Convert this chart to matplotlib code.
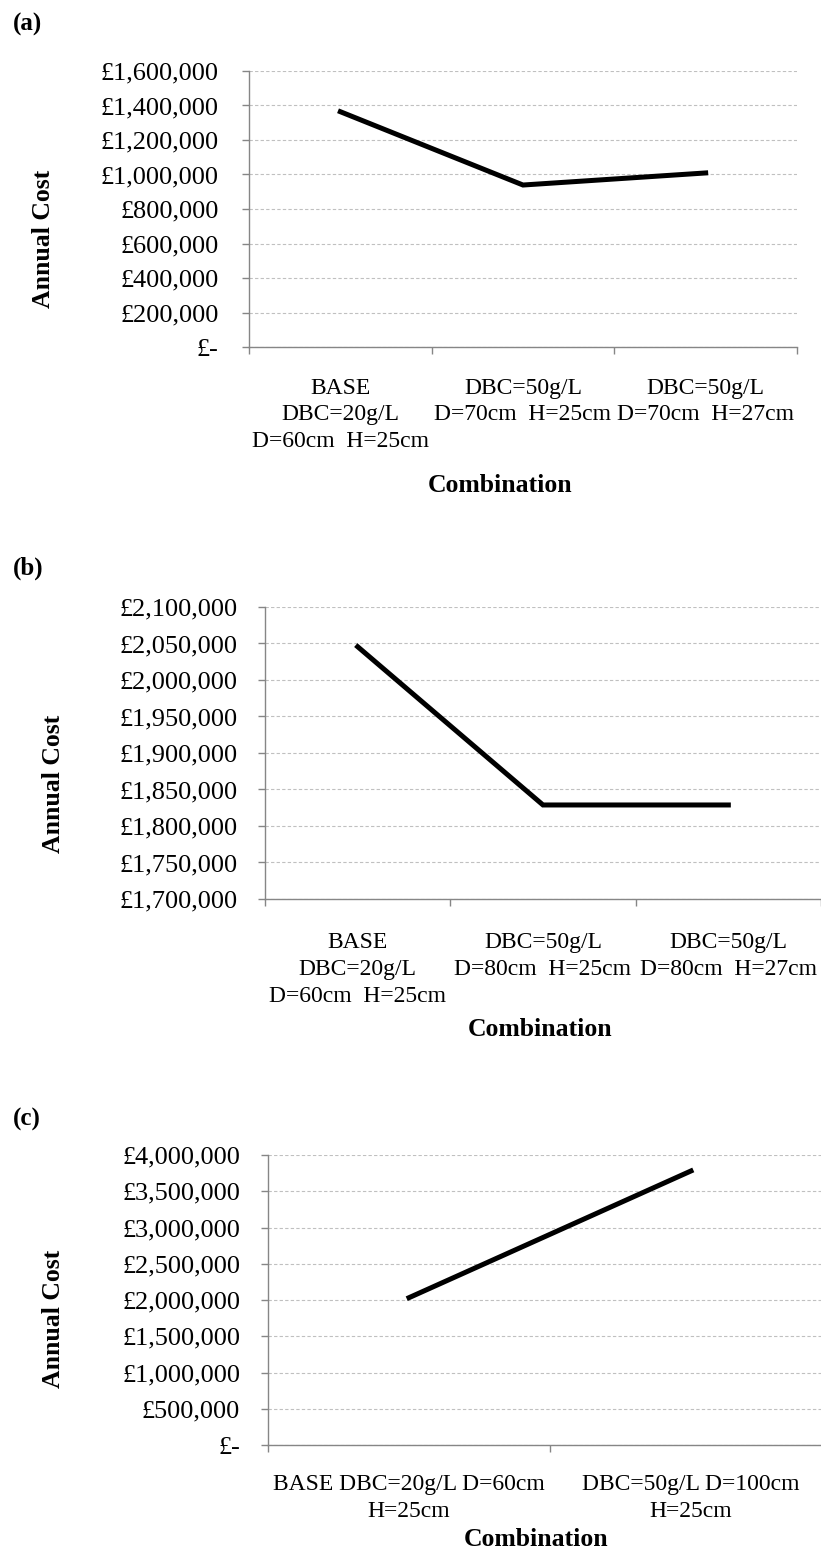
import matplotlib.pyplot as plt
from matplotlib.ticker import FuncFormatter, FixedLocator
from matplotlib.patches import Rectangle

plt.rcParams['font.family'] = ['Liberation Serif', 'DejaVu Serif']

# panel (a)
labels_a = ['BASE\nDBC=20g/L\nD=60cm  H=25cm', 'DBC=50g/L\nD=70cm  H=25cm', 'DBC=50g/L\nD=70cm  H=27cm']
cost_a = [1364000, 939000, 1009000]
yticks_a = [0, 200000, 400000, 600000, 800000, 1000000, 1200000, 1400000, 1600000]

# panel (b)
labels_b = ['BASE\nDBC=20g/L\nD=60cm  H=25cm', 'DBC=50g/L\nD=80cm  H=25cm', 'DBC=50g/L\nD=80cm  H=27cm']
cost_b = [2045600, 1828800, 1828800]
yticks_b = [1700000, 1750000, 1800000, 1850000, 1900000, 1950000, 2000000, 2050000, 2100000]

# panel (c)
labels_c = ['BASE DBC=20g/L D=60cm\nH=25cm', 'DBC=50g/L D=100cm\nH=25cm']
cost_c = [2032000, 3780000]
yticks_c = [0, 500000, 1000000, 1500000, 2000000, 2500000, 3000000, 3500000, 4000000]

W, H = 821, 1553
fig = plt.figure(figsize=(W / 100, H / 100), dpi=100)
AXC = '#868686'


def pounds(v, pos):
    if v == 0:
        return '£-'
    return '£{:,.0f}'.format(v)


def panel(box, labels, cost, yticks, tag, tagy, ylab_xy, xlab_xy, ypad, xpad, xclip=None):
    left, top, right, bottom = box
    ax = fig.add_axes([left / W, 1 - bottom / H, (right - left) / W, (bottom - top) / H])
    n = len(labels)
    x = list(range(n))
    ax.plot(x, cost, color='black', lw=3.6, solid_joinstyle='miter')
    ax.set_xlim(-0.5, n - 0.5)
    ax.set_ylim(yticks[0], yticks[-1])
    ax.yaxis.set_major_locator(FixedLocator(yticks))
    ax.yaxis.set_major_formatter(FuncFormatter(pounds))
    ax.set_xticks(x)
    ax.set_xticklabels(labels, linespacing=1.35)
    ax.set_xticks([i - 0.5 for i in range(n + 1)], minor=True)
    ax.tick_params(axis='x', which='major', length=0, labelsize=17, pad=xpad)
    ax.tick_params(axis='x', which='minor', length=5, width=1, color=AXC)
    ax.tick_params(axis='y', length=5, width=1, color=AXC, labelsize=19, pad=ypad)
    ax.grid(axis='y', color='#C0C0C0', ls=(0, (3, 2)), lw=0.8)
    ax.set_axisbelow(True)
    for s in ['top', 'right']:
        ax.spines[s].set_visible(False)
    for s in ['left', 'bottom']:
        ax.spines[s].set_color(AXC)
        ax.spines[s].set_linewidth(1)
    fig.text(13 / W, 1 - tagy / H, tag, fontsize=18, fontweight='bold', ha='left', va='center')
    fig.text(ylab_xy[0] / W, 1 - ylab_xy[1] / H, 'Annual Cost', fontsize=18.5, fontweight='bold',
             rotation=90, ha='center', va='center')
    t = fig.text(xlab_xy[0] / W, 1 - xlab_xy[1] / H, 'Combination', fontsize=18.5, fontweight='bold',
                 ha='center', va='center')
    if xclip is not None:
        clip = Rectangle((0, 1 - xclip / H), 1, xclip / H, transform=fig.transFigure)
        t.set_clip_path(clip)
    return ax


panel((249, 71, 797, 347), labels_a, cost_a, yticks_a, '(a)', 24, (43, 239), (500, 486), 17, 22)
panel((265, 607, 821, 899), labels_b, cost_b, yticks_b, '(b)', 568, (54, 784), (540, 1029), 15, 24, xclip=1037)
panel((268, 1155, 832, 1445), labels_c, cost_c, yticks_c, '(c)', 1119, (53, 1319), (536, 1540), 15, 21)

fig.savefig('out.png', dpi=100)
